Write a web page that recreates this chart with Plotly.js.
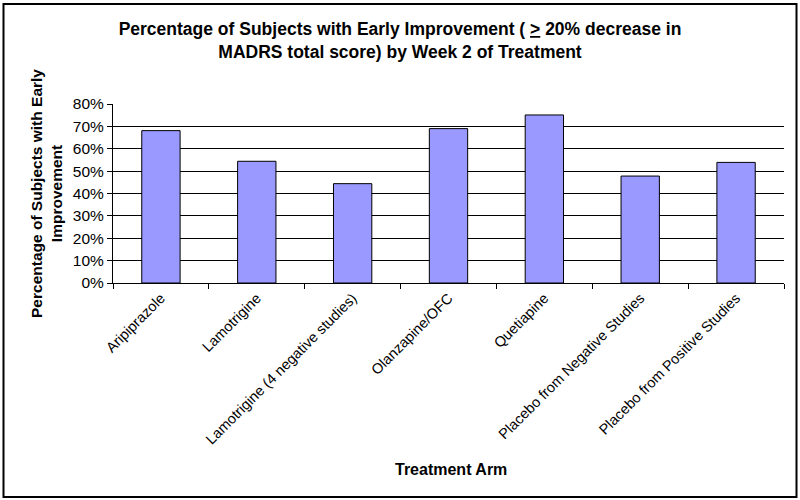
<!DOCTYPE html>
<html>
<head>
<meta charset="utf-8">
<script src="https://cdn.plot.ly/plotly-3.0.1.min.js"></script>
<style>html,body{margin:0;padding:0;background:#fff;}#chart{width:800px;height:500px;}</style>
</head>
<body>
<div id="chart"></div>
<script>
var categories = ["Aripiprazole", "Lamotrigine", "Lamotrigine (4 negative studies)", "Olanzapine/OFC", "Quetiapine", "Placebo from Negative Studies", "Placebo from Positive Studies"];
var values = [0.681, 0.544, 0.444, 0.690, 0.751, 0.478, 0.539];
var yTickVals = [0, 0.1, 0.2, 0.3, 0.4, 0.5, 0.6, 0.7, 0.8];

var L = 113, R = 784, T = 104, B = 283;
function px(x){ return (x - L) / (R - L); }
function py(y){ return (B - y) / (B - T); }

var trace = {
  type: "bar",
  x: categories,
  y: values,
  marker: { color: "#9999FF", line: { color: "#000000", width: 1 } },
  width: 0.4,
  hoverinfo: "x+y"
};

var layout = {
  width: 800, height: 500,
  margin: { l: L, r: 800 - R, t: T, b: 500 - B },
  paper_bgcolor: "#ffffff",
  plot_bgcolor: "#ffffff",
  font: { family: "Liberation Sans, Arial, sans-serif", color: "#000000", size: 14 },
  showlegend: false,
  title: {
    text: "<b>Percentage of Subjects with Early Improvement ( <u>></u> 20% decrease in<br>MADRS total score) by Week 2 of Treatment</b>",
    font: { size: 17.5, family: "Liberation Sans, Arial, sans-serif" },
    x: 0.5, xanchor: "center", y: 0.93, yanchor: "middle"
  },
  xaxis: {
    type: "category",
    tickangle: -45,
    ticks: "outside", ticklen: 5, tickcolor: "#000", tickson: "boundaries",
    showline: true, linecolor: "#000", linewidth: 1,
    showgrid: false,
    tickfont: { size: 14.5 }
  },
  yaxis: {
    range: [0, 0.8],
    tickvals: yTickVals,
    tickformat: ".0%",
    ticks: "outside", ticklen: 5, tickcolor: "#000",
    showline: true, linecolor: "#000", linewidth: 1,
    showgrid: true, gridcolor: "#000", gridwidth: 1,
    zeroline: false,
    tickfont: { size: 15.5 },
    title: { text: "<b>Percentage of Subjects with Early<br>Improvement</b>", font: { size: 15.5 }, standoff: 6 }
  },
  annotations: [{
    text: "<b>Treatment Arm</b>", xref: "paper", yref: "paper",
    x: px(451), y: py(469), xanchor: "center", yanchor: "middle",
    showarrow: false, font: { size: 16 }
  }],
  shapes: [{
    type: "rect", xref: "paper", yref: "paper",
    x0: px(3.5), x1: px(796.5), y0: py(497), y1: py(4),
    line: { color: "#000", width: 2 }, fillcolor: "rgba(0,0,0,0)", layer: "below"
  }]
};

Plotly.newPlot("chart", [trace], layout, { displayModeBar: false, staticPlot: true });
</script>
</body>
</html>
